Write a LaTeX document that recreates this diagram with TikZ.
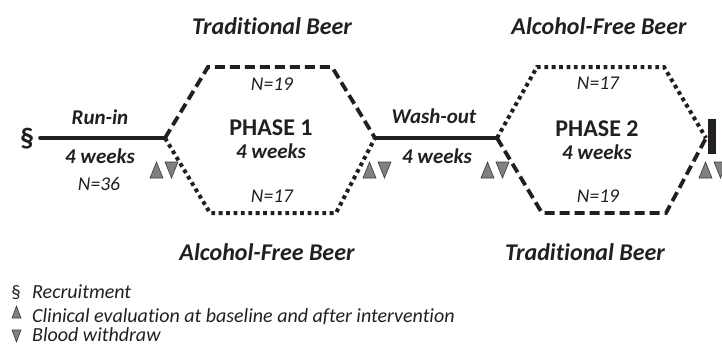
\documentclass[tikz,border=0pt]{standalone}
\usepackage{fontspec}
\setmainfont{Carlito}[Ligatures=NoCommon]
\definecolor{ink}{HTML}{231F20}
\definecolor{trifill}{HTML}{808080}
\definecolor{triedge}{HTML}{3A3A3A}
\tikzset{
  solidline/.style={ink, line width=3.6pt},
  dashline/.style={ink, line width=3.8pt, dash pattern=on 10pt off 5pt},
  dotline/.style={ink, line width=4pt, dash pattern=on 3.8pt off 3.6pt},
  title/.style={font=\fontsize{24}{26}\selectfont\bfseries\itshape, text=ink, anchor=base, inner sep=0pt},
  phase/.style={font=\fontsize{24}{26}\selectfont\bfseries, text=ink, anchor=base, inner sep=0pt},
  weeks/.style={font=\fontsize{21}{23}\selectfont\bfseries\itshape, text=ink, anchor=base, inner sep=0pt},
  nlab/.style={font=\fontsize{19.5}{21}\selectfont\itshape, text=ink, anchor=base, inner sep=0pt},
  legend/.style={font=\fontsize{20}{22}\selectfont\itshape, text=ink, anchor=base west, inner sep=0pt},
  tri/.style={fill=trifill, draw=triedge, line width=0.6pt, line join=miter},
  uptri/.pic={\path[tri] (0,16) -- (13,16) -- (6.5,0) -- cycle;},
  downtri/.pic={\path[tri] (0,0) -- (13,0) -- (6.5,16) -- cycle;},
  tripair/.pic={\pic at (0,0) {uptri}; \pic at (15,0) {downtri};}
}
\begin{document}
\begin{tikzpicture}[x=1pt, y=-1pt]
\useasboundingbox (0,0) rectangle (722,345);

% section sign and run-in
\node[font=\fontsize{28}{30}\selectfont\bfseries, text=ink, inner sep=0pt] (sect) at (27,139) {\S};
\coordinate (runstart) at (40,138);

% hexagon 1
\coordinate (h1L) at (165,138);
\coordinate (h1TL) at (208,67);
\coordinate (h1TR) at (332,67);
\coordinate (h1R) at (375,138);
\coordinate (h1BR) at (336,213);
\coordinate (h1BL) at (210,213);

% hexagon 2
\coordinate (h2L) at (497,138);
\coordinate (h2TL) at (537,67);
\coordinate (h2TR) at (664,67);
\coordinate (h2R) at (706,138);
\coordinate (h2BR) at (666,213);
\coordinate (h2BL) at (542,213);

\draw[solidline, line cap=round] (runstart) -- (h1L);
\draw[solidline] (h1R) -- (h2L);

\draw[dashline] (h1L) -- (h1TL) -- (h1TR) -- (h1R);
\draw[dotline] (h1L) -- (h1BL) -- (h1BR) -- (h1R);
\draw[dotline] (h2L) -- (h2TL) -- (h2TR) -- (h2R);
\draw[dashline] (h2L) -- (h2BL) -- (h2BR) -- (h2R);

% end bar
\fill[ink] (708,119) rectangle (716,154);

% triangles
\pic at (150,162) {tripair};
\pic at (363,162) {tripair};
\pic at (481,162) {tripair};
\pic at (699,162) {tripair};

% labels
\node[title] (tb1) at (272,35) {Traditional Beer};
\node[title] (af1) at (599,35) {Alcohol-Free Beer};
\node[title] (af2) at (267,260) {Alcohol-Free Beer};
\node[title] (tb2) at (585,260) {Traditional Beer};

\node[phase] (p1) at (271,135) {PHASE 1};
\node[weeks] (p1w) at (271,158.5) {4 weeks};
\node[nlab] (p1n1) at (272,90) {N=19};
\node[nlab] (p1n2) at (272,202) {N=17};

\node[phase] (p2) at (597,136) {PHASE 2};
\node[weeks] (p2w) at (597,159.5) {4 weeks};
\node[nlab] (p2n1) at (598,89) {N=17};
\node[nlab] (p2n2) at (598,202) {N=19};

\node[weeks] (ri) at (100,124) {Run-in};
\node[weeks] (riw) at (100,163) {4 weeks};
\node[nlab] (rin) at (99,190) {N=36};

\node[weeks] (wo) at (434,123) {Wash-out};
\node[weeks] (wow) at (437,163) {4 weeks};

% legend
\node[font=\fontsize{19}{21}\selectfont, text=ink, anchor=base, inner sep=0pt] (lsect) at (16,298) {\S};
\node[legend] (l1) at (32,298) {Recruitment};
\path[tri] (12,318) -- (21,318) -- (16.5,306) -- cycle;
\node[legend] (l2) at (32,322) {Clinical evaluation at baseline and after intervention};
\path[tri] (12,330) -- (21,330) -- (16.5,342) -- cycle;
\node[legend] (l3) at (32,341.5) {Blood withdraw};
\end{tikzpicture}
\end{document}
